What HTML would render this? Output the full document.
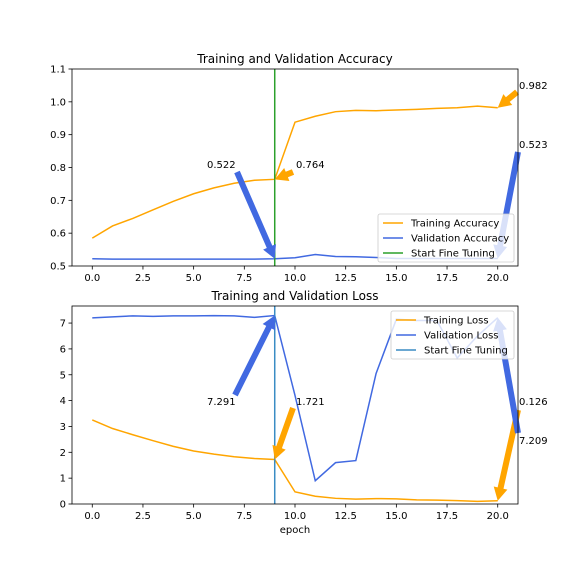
<!DOCTYPE html>
<html><head><meta charset="utf-8"><style>
body{margin:0;background:#fff}
svg{display:block;font-family:"DejaVu Sans","Liberation Sans",sans-serif}
</style></head><body>
<svg id="c" width="576" height="576" viewBox="0 0 576 576"></svg>
<script>
const epochs=[0,1,2,3,4,5,6,7,8,9,10,11,12,13,14,15,16,17,18,19,20];
const trainAcc=[0.585,0.622,0.645,0.671,0.697,0.72,0.738,0.752,0.761,0.764,0.938,0.956,0.970,0.974,0.973,0.975,0.977,0.980,0.982,0.987,0.982];
const valAcc=[0.522,0.521,0.521,0.521,0.521,0.521,0.521,0.521,0.521,0.522,0.525,0.535,0.529,0.528,0.526,0.523,0.523,0.523,0.523,0.523,0.523];
const trainLoss=[3.25,2.92,2.68,2.45,2.23,2.05,1.93,1.83,1.76,1.721,0.47,0.30,0.22,0.19,0.21,0.20,0.16,0.15,0.13,0.10,0.126];
const valLoss=[7.2,7.24,7.28,7.26,7.28,7.28,7.29,7.28,7.22,7.291,4.2,0.9,1.6,1.68,5.05,7.15,7.1,7.1,5.65,6.5,7.209];
const xTicks=[0,2.5,5,7.5,10,12.5,15,17.5,20];
const accTicks=[0.5,0.6,0.7,0.8,0.9,1.0,1.1];
const lossTicks=[0,1,2,3,4,5,6,7];
const fineTuneEpoch=9;
const svg=document.getElementById('c');
const NS='http://www.w3.org/2000/svg';
function mk(t,a,p){const e=document.createElementNS(NS,t);for(const k in a)e.setAttribute(k,a[k]);(p||svg).appendChild(e);return e;}
const X0=72,X1=518;
const sx=v=>X0+(v+1)/22*(X1-X0);
function panel(cfg){
  const g=mk('g',{});
  
  
  const sy=v=>cfg.y1-(v-cfg.ymin)/(cfg.ymax-cfg.ymin)*(cfg.y1-cfg.y0);
  const t=mk('text',{x:295,y:cfg.y0-6,'text-anchor':'middle','font-size':12},g);t.textContent=cfg.title;
  
  xTicks.forEach(v=>{const x=sx(v);mk('line',{x1:x,x2:x,y1:cfg.y1,y2:cfg.y1+3.5,stroke:'#000','stroke-width':0.8},g);
    const l=mk('text',{x:x,y:cfg.y1+15,'text-anchor':'middle','font-size':10},g);l.textContent=v.toFixed(1);});
  cfg.ticks.forEach(v=>{const y=sy(v);mk('line',{x1:X0-3.5,x2:X0,y1:y,y2:y,stroke:'#000','stroke-width':0.8},g);
    const l=mk('text',{x:X0-6,y:y+3.5,'text-anchor':'end','font-size':10},g);l.textContent=cfg.fmt(v);});
  const line=(arr,col,nm)=>{const p=mk('polyline',{points:arr.map((v,i)=>sx(epochs[i])+','+sy(v)).join(' '),fill:'none',stroke:col,'stroke-width':1.5},g);
    };
  line(cfg.train,'#ffa500',cfg.name+'-training-line');
  line(cfg.val,'#4169e1',cfg.name+'-validation-line');
  const vl=mk('line',{x1:sx(fineTuneEpoch),x2:sx(fineTuneEpoch),y1:cfg.y0,y2:cfg.y1,stroke:cfg.vcol,'stroke-width':1.5},g);
  
  // arrows
  cfg.ann.forEach(a=>{
    const tx=a.tx,ty=a.ty,hx=sx(a.ex),hy=sy(a.ey);
    const dx=hx-tx,dy=hy-ty,L=Math.hypot(dx,dy),ux=dx/L,uy=dy/L,nx=-uy,ny=ux;
    const hl=13,w=3,hw=7;
    const bx=hx-ux*hl,by=hy-uy*hl;
    const pts=[[tx+nx*w,ty+ny*w],[bx+nx*w,by+ny*w],[bx+nx*hw,by+ny*hw],[hx,hy],[bx-nx*hw,by-ny*hw],[bx-nx*w,by-ny*w],[tx-nx*w,ty-ny*w]];
    const p=mk('polygon',{points:pts.map(q=>q.join(',')).join(' '),fill:a.col},g);
    
    const l=mk('text',{x:a.lx,y:a.ly,'font-size':10},g);l.textContent=a.label;
    
  });
  mk('rect',{x:X0,y:cfg.y0,width:X1-X0,height:cfg.y1-cfg.y0,fill:'none',stroke:'#000','stroke-width':0.8},g);
  // legend
  const L=cfg.leg,lg=mk('g',{},g);
  
  mk('rect',{x:L.x,y:L.y,width:L.w,height:48,rx:2,fill:'rgba(255,255,255,0.8)',stroke:'#ccc','stroke-width':0.8},lg);
  [['#ffa500',cfg.labels[0]],['#4169e1',cfg.labels[1]],[cfg.vcol,cfg.labels[2]]].forEach((e,i)=>{
    const y=L.y+9+i*15;
    mk('line',{x1:L.x+5,x2:L.x+25,y1:y,y2:y,stroke:e[0],'stroke-width':1.5},lg);
    const t=mk('text',{x:L.x+33,y:y+3.5,'font-size':10},lg);t.textContent=e[1];
    
  });
}
panel({name:'accuracy-panel',title:'Training and Validation Accuracy',y0:69,y1:266,ymin:0.5,ymax:1.1,ticks:accTicks,fmt:v=>v.toFixed(1),
  train:trainAcc,val:valAcc,vcol:'#2ca02c',labels:['Training Accuracy','Validation Accuracy','Start Fine Tuning'],leg:{x:378,y:214,w:136},
  ann:[{tx:237,ty:172,ex:9,ey:valAcc[9],col:'#4169e1',label:valAcc[9].toFixed(3),lx:207,ly:168},
       {tx:293,ty:172,ex:9,ey:trainAcc[9],col:'#ffa500',label:trainAcc[9].toFixed(3),lx:296,ly:168},
       {tx:517,ty:92,ex:20,ey:trainAcc[20],col:'#ffa500',label:trainAcc[20].toFixed(3),lx:519,ly:89},
       {tx:518,ty:152,ex:20,ey:valAcc[20],col:'#4169e1',label:valAcc[20].toFixed(3),lx:519,ly:148}]});
panel({name:'loss-panel',title:'Training and Validation Loss',y0:306,y1:504,ymin:0,ymax:7.66,ticks:lossTicks,fmt:v=>String(v),
  train:trainLoss,val:valLoss,vcol:'#3a8cc4',labels:['Training Loss','Validation Loss','Start Fine Tuning'],leg:{x:391,y:311,w:123},
  ann:[{tx:235,ty:395,ex:9,ey:valLoss[9],col:'#4169e1',label:valLoss[9].toFixed(3),lx:207,ly:405},
       {tx:293,ty:408,ex:9,ey:trainLoss[9],col:'#ffa500',label:trainLoss[9].toFixed(3),lx:296,ly:405},
       {tx:518,ty:410,ex:20,ey:trainLoss[20],col:'#ffa500',label:trainLoss[20].toFixed(3),lx:519,ly:405},
       {tx:518,ty:433,ex:20,ey:valLoss[20],col:'#4169e1',label:valLoss[20].toFixed(3),lx:519,ly:444}]});
const ep=mk('text',{x:295,y:533,'text-anchor':'middle','font-size':10});ep.textContent='epoch';

</script>
</body></html>
